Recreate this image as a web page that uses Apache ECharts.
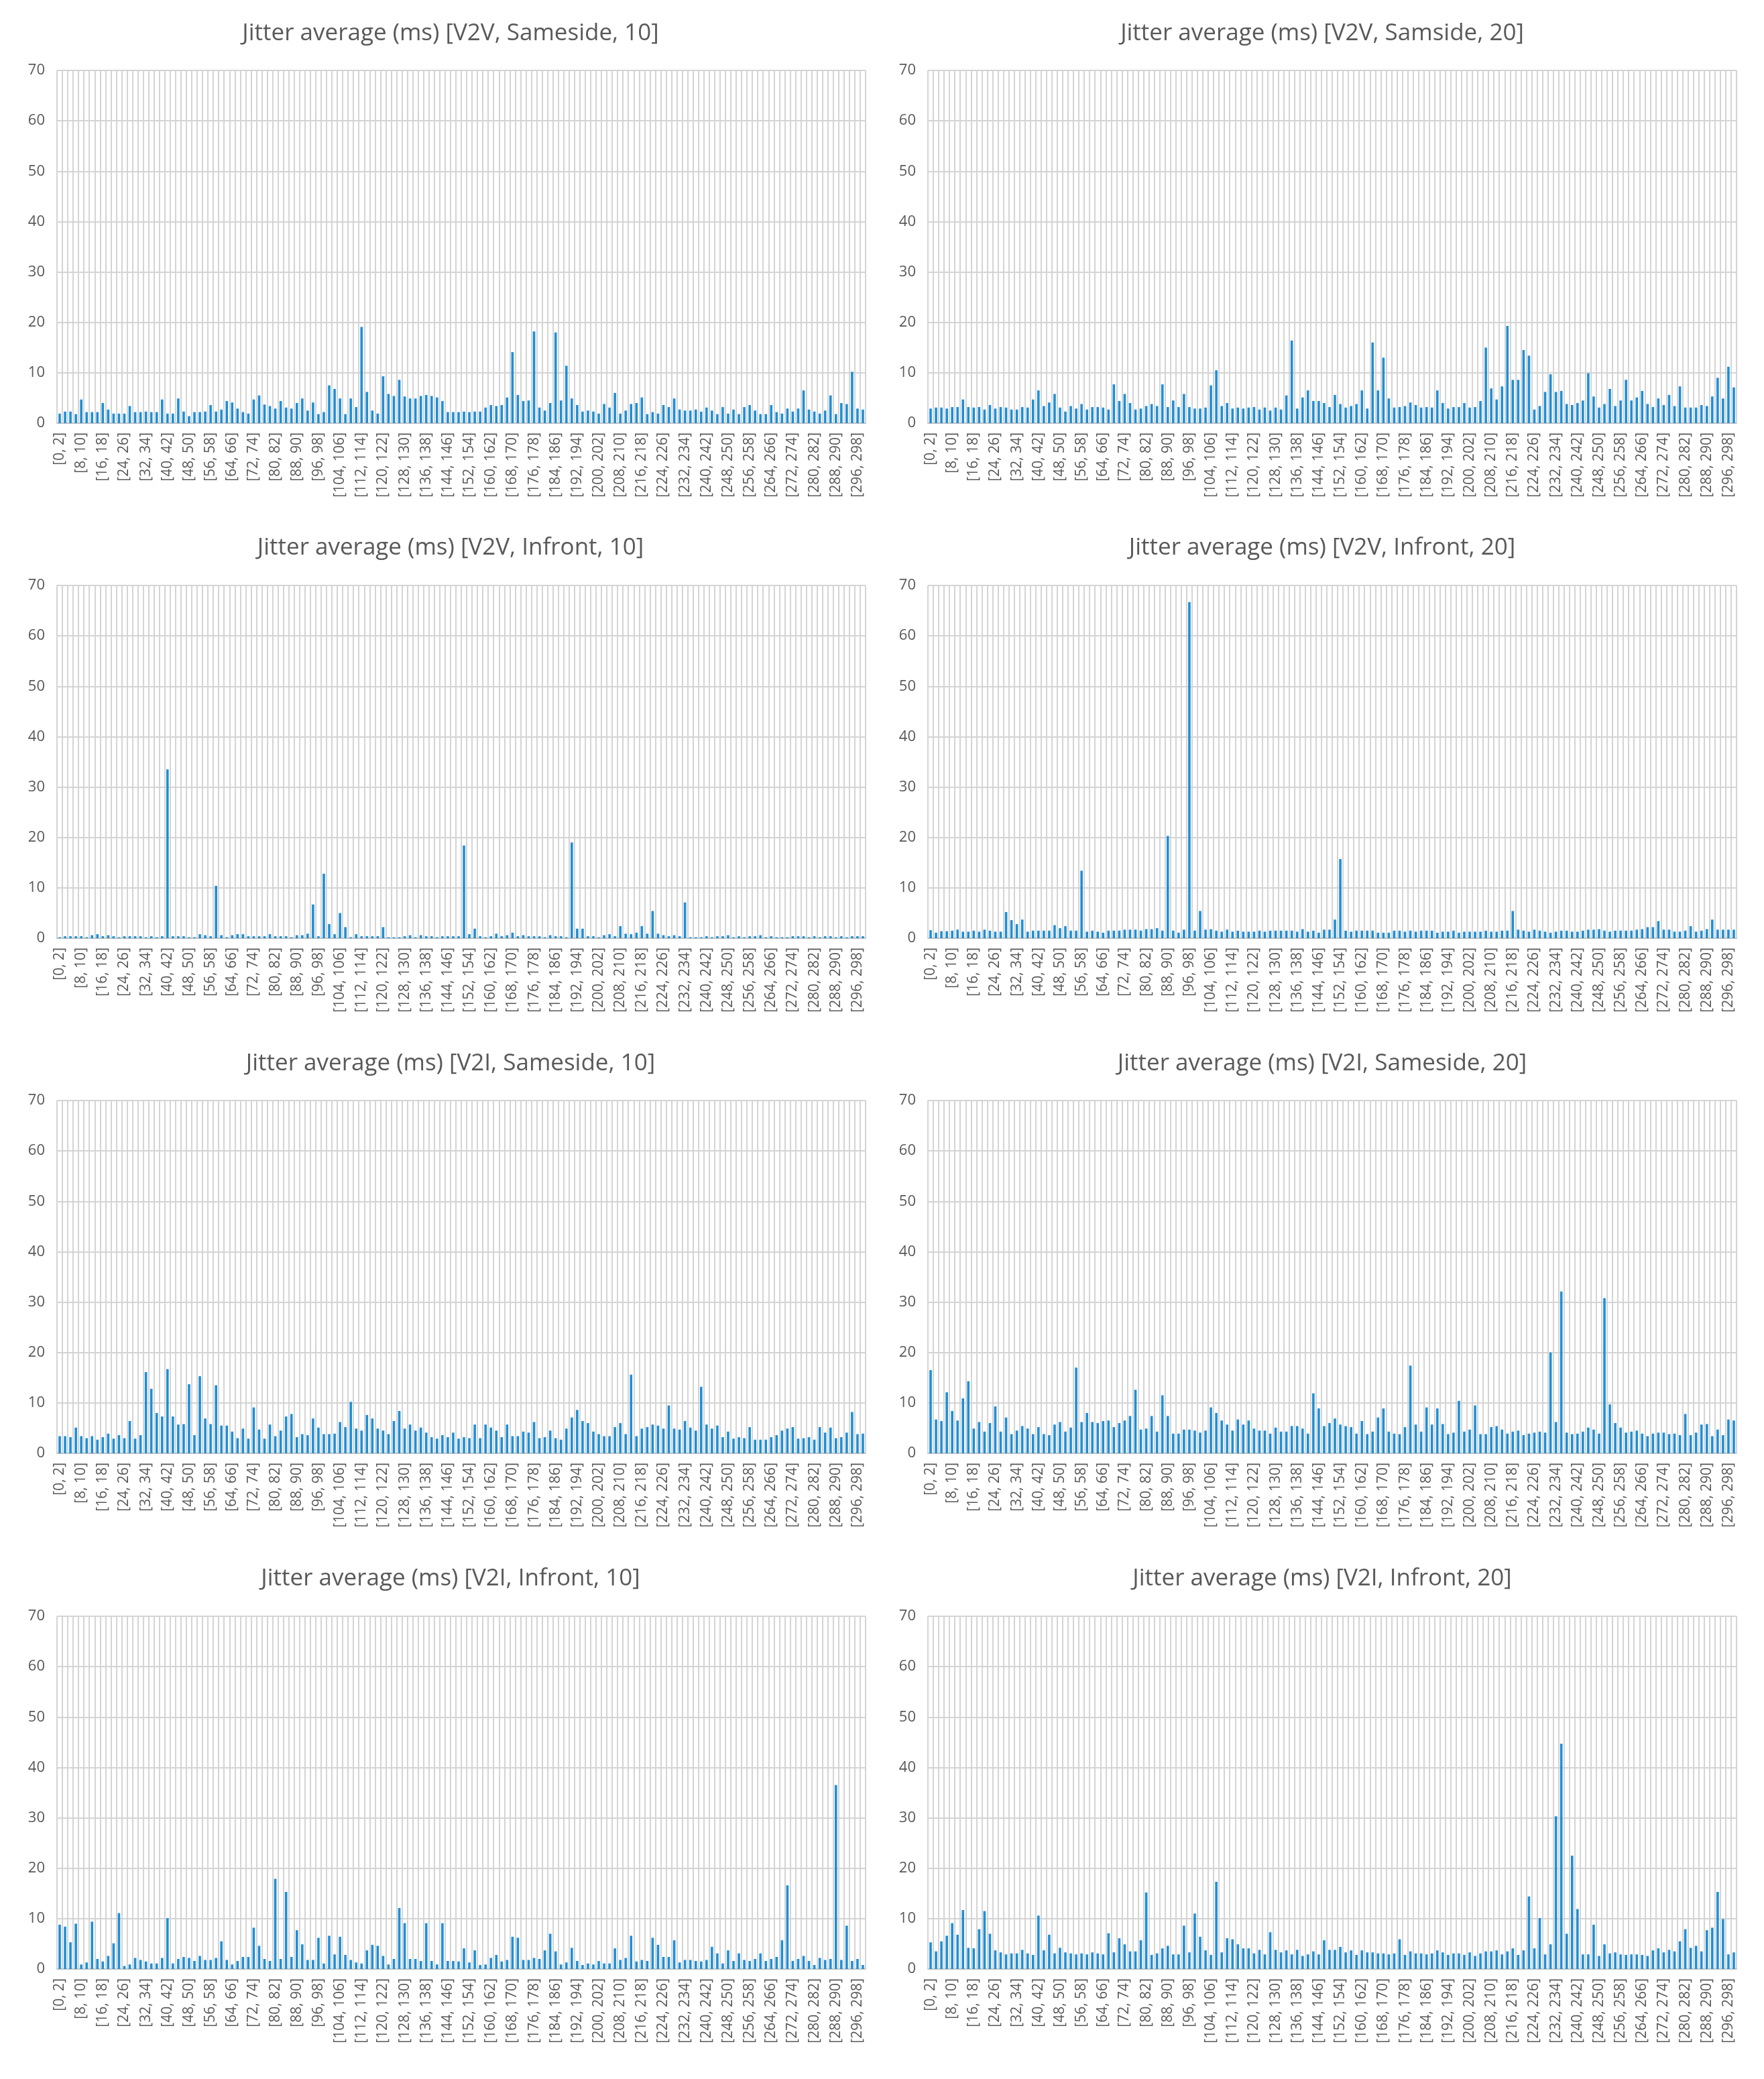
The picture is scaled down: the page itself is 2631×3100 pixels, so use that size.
<!DOCTYPE html>
<html>
<head>
<meta charset="utf-8">
<title>Jitter average</title>
<script src="https://cdn.jsdelivr.net/npm/echarts@6/dist/echarts.min.js"></script>
<style>
  html, body { margin: 0; padding: 0; background: #fff; }
  #chart { width: 2631px; height: 3100px; }
</style>
</head>
<body>
<div id="chart"></div>
<script>
// bins [0, 2] ... [298, 300]
const categories = [];
for (let i = 0; i < 150; i++) categories.push('[' + (2 * i) + ', ' + (2 * i + 2) + ']');

const yTicks = [0, 10, 20, 30, 40, 50, 60, 70];

const titles = [
  'Jitter average (ms) [V2V, Sameside, 10]',
  'Jitter average (ms) [V2V, Samside, 20]',
  'Jitter average (ms) [V2V, Infront, 10]',
  'Jitter average (ms) [V2V, Infront, 20]',
  'Jitter average (ms) [V2I, Sameside, 10]',
  'Jitter average (ms) [V2I, Sameside, 20]',
  'Jitter average (ms) [V2I, Infront, 10]',
  'Jitter average (ms) [V2I, Infront, 20]'
];

const v2vSameside10 = [
  1.9, 2.3, 2.3, 1.8, 4.7, 2.2, 2.2, 2.2, 4.0, 2.7,
  1.9, 1.9, 1.9, 3.4, 2.2, 2.2, 2.3, 2.2, 2.2, 4.7,
  1.9, 1.9, 4.9, 2.3, 1.4, 2.2, 2.2, 2.3, 3.6, 2.3,
  2.7, 4.4, 4.1, 2.9, 2.2, 1.9, 4.7, 5.5, 3.7, 3.4,
  2.9, 4.4, 3.1, 2.9, 4.0, 4.9, 2.5, 4.1, 1.8, 2.2,
  7.5, 6.8, 4.9, 1.8, 4.9, 3.2, 19.1, 6.2, 2.5, 1.9,
  9.3, 5.8, 5.4, 8.6, 5.3, 4.9, 4.9, 5.4, 5.6, 5.4,
  5.1, 4.4, 2.2, 2.2, 2.2, 2.3, 2.2, 2.3, 2.3, 3.1,
  3.6, 3.4, 3.6, 5.1, 14.1, 5.6, 4.4, 4.5, 18.2, 3.1,
  2.5, 4.0, 18.0, 4.5, 11.4, 4.9, 3.6, 2.3, 2.5, 2.3,
  1.9, 3.8, 3.1, 6.0, 1.9, 2.5, 3.8, 4.0, 5.1, 1.8,
  2.2, 1.9, 3.6, 3.2, 4.9, 2.7, 2.5, 2.5, 2.7, 2.3,
  3.1, 2.5, 1.8, 3.2, 1.9, 2.7, 1.8, 3.2, 3.6, 2.5,
  1.8, 1.8, 3.6, 2.2, 1.9, 2.9, 2.3, 2.9, 6.5, 2.7,
  2.3, 1.9, 2.5, 5.5, 1.8, 4.0, 3.8, 10.2, 2.9, 2.7
];

const v2vSamside20 = [
  2.9, 3.1, 3.1, 2.9, 3.2, 3.2, 4.7, 3.2, 3.1, 3.2,
  2.7, 3.6, 2.9, 3.2, 3.1, 2.7, 2.7, 3.2, 3.1, 4.7,
  6.5, 3.4, 4.1, 5.8, 3.1, 2.3, 3.4, 2.9, 3.8, 2.7,
  3.2, 3.2, 3.1, 2.7, 7.7, 4.4, 5.8, 4.0, 2.7, 2.9,
  3.4, 3.8, 3.4, 7.7, 3.2, 4.5, 3.2, 5.8, 3.2, 2.9,
  2.9, 3.1, 7.5, 10.5, 3.4, 4.0, 2.9, 3.1, 2.9, 3.1,
  3.2, 2.7, 3.1, 2.5, 3.1, 2.7, 5.5, 16.4, 2.9, 5.1,
  6.5, 4.4, 4.4, 4.0, 3.2, 5.6, 3.8, 3.1, 3.4, 3.8,
  6.5, 2.9, 16.0, 6.5, 13.0, 4.9, 3.1, 3.2, 3.4, 4.1,
  3.6, 3.1, 3.2, 3.1, 6.5, 4.0, 2.9, 3.2, 3.2, 4.0,
  3.1, 3.2, 4.4, 15.0, 6.9, 4.7, 7.3, 19.3, 8.6, 8.6,
  14.5, 13.4, 2.7, 3.4, 6.2, 9.7, 6.2, 6.4, 3.8, 3.6,
  4.0, 4.5, 9.9, 5.3, 3.1, 3.8, 6.8, 3.4, 4.5, 8.6,
  4.5, 5.1, 6.4, 3.8, 3.2, 4.9, 3.6, 5.6, 3.4, 7.3,
  3.1, 3.1, 3.1, 3.6, 3.4, 5.3, 9.0, 4.9, 11.2, 7.1
];

const v2vInfront10 = [
  0.2, 0.4, 0.4, 0.4, 0.4, 0.2, 0.6, 0.8, 0.4, 0.6,
  0.4, 0.2, 0.4, 0.4, 0.4, 0.4, 0.2, 0.4, 0.2, 0.4,
  33.5, 0.4, 0.4, 0.4, 0.2, 0.2, 0.8, 0.6, 0.4, 10.4,
  0.6, 0.2, 0.6, 0.8, 0.8, 0.4, 0.4, 0.4, 0.4, 0.8,
  0.4, 0.4, 0.4, 0.2, 0.6, 0.6, 0.9, 6.7, 0.4, 12.8,
  2.8, 0.8, 5.0, 2.2, 0.2, 0.8, 0.4, 0.4, 0.4, 0.4,
  2.2, 0.2, 0.2, 0.2, 0.4, 0.6, 0.2, 0.6, 0.4, 0.4,
  0.2, 0.4, 0.4, 0.4, 0.4, 18.4, 0.8, 1.9, 0.4, 0.2,
  0.4, 0.9, 0.4, 0.6, 1.1, 0.4, 0.6, 0.4, 0.4, 0.4,
  0.2, 0.6, 0.4, 0.4, 0.2, 19.0, 1.9, 1.9, 0.4, 0.4,
  0.2, 0.6, 0.8, 0.4, 2.4, 0.9, 0.8, 1.1, 2.4, 0.9,
  5.4, 0.9, 0.6, 0.4, 0.6, 0.4, 7.1, 0.2, 0.2, 0.2,
  0.4, 0.2, 0.4, 0.4, 0.6, 0.2, 0.4, 0.2, 0.4, 0.4,
  0.6, 0.2, 0.4, 0.2, 0.2, 0.2, 0.4, 0.4, 0.4, 0.2,
  0.4, 0.2, 0.4, 0.4, 0.2, 0.4, 0.2, 0.4, 0.4, 0.4
];

const v2vInfront20 = [
  1.6, 1.1, 1.4, 1.4, 1.5, 1.7, 1.3, 1.3, 1.5, 1.3,
  1.7, 1.5, 1.3, 1.3, 5.2, 3.6, 2.8, 3.7, 1.3, 1.5,
  1.5, 1.5, 1.5, 2.6, 2.0, 2.4, 1.5, 1.5, 13.4, 1.3,
  1.5, 1.3, 1.1, 1.5, 1.5, 1.5, 1.7, 1.7, 1.7, 1.5,
  1.8, 1.8, 2.0, 1.5, 20.3, 1.5, 1.1, 1.7, 66.7, 1.5,
  5.4, 1.7, 1.8, 1.5, 1.3, 1.7, 1.3, 1.5, 1.3, 1.3,
  1.3, 1.5, 1.3, 1.5, 1.5, 1.5, 1.5, 1.5, 1.3, 1.8,
  1.3, 1.5, 1.1, 1.7, 1.7, 3.7, 15.7, 1.5, 1.3, 1.5,
  1.5, 1.5, 1.5, 1.1, 1.1, 1.1, 1.5, 1.5, 1.3, 1.5,
  1.3, 1.5, 1.5, 1.5, 1.1, 1.3, 1.3, 1.5, 1.1, 1.3,
  1.3, 1.3, 1.3, 1.5, 1.3, 1.3, 1.5, 1.5, 5.4, 1.7,
  1.5, 1.3, 1.7, 1.5, 1.3, 1.1, 1.3, 1.5, 1.5, 1.3,
  1.3, 1.5, 1.7, 1.7, 1.8, 1.5, 1.3, 1.5, 1.5, 1.5,
  1.5, 1.7, 1.8, 2.2, 2.2, 3.4, 1.7, 1.7, 1.3, 1.3,
  1.5, 2.4, 1.3, 1.5, 1.8, 3.7, 1.7, 1.7, 1.7, 1.7
];

const v2iSameside10 = [
  3.4, 3.4, 3.2, 5.1, 3.4, 3.0, 3.4, 2.7, 3.2, 3.9,
  2.9, 3.6, 3.0, 6.4, 2.9, 3.6, 16.1, 12.8, 8.0, 7.3,
  16.7, 7.3, 5.7, 5.8, 13.7, 3.6, 15.3, 6.9, 5.8, 13.5,
  5.5, 5.5, 4.3, 3.0, 4.9, 2.9, 9.1, 4.7, 2.9, 5.7,
  3.4, 4.5, 7.3, 7.8, 3.2, 3.8, 3.6, 6.9, 5.1, 3.8,
  3.8, 3.9, 6.2, 5.2, 10.2, 4.9, 4.5, 7.6, 6.9, 4.9,
  4.5, 3.8, 6.4, 8.4, 4.9, 5.7, 4.5, 5.1, 4.1, 3.2,
  2.9, 3.6, 3.2, 4.1, 2.9, 3.2, 3.0, 5.7, 3.0, 5.7,
  5.1, 4.5, 3.2, 5.7, 3.4, 3.4, 4.3, 4.1, 6.2, 3.0,
  3.2, 4.5, 3.0, 2.7, 4.9, 7.1, 8.6, 6.4, 6.0, 4.3,
  3.8, 3.4, 3.4, 5.2, 6.0, 3.8, 15.6, 3.4, 4.9, 5.2,
  5.7, 5.5, 4.9, 9.5, 4.9, 4.7, 6.4, 5.1, 4.5, 13.2,
  5.7, 4.9, 5.5, 3.2, 4.3, 2.9, 3.2, 3.0, 5.2, 2.7,
  2.7, 2.7, 3.2, 3.6, 4.5, 4.9, 5.2, 2.9, 3.0, 3.2,
  2.7, 5.2, 4.1, 5.1, 3.0, 3.2, 4.1, 8.2, 3.8, 3.9
];

const v2iSameside20 = [
  16.5, 6.7, 6.4, 12.1, 8.4, 6.5, 10.9, 14.3, 4.9, 6.2,
  4.3, 6.0, 9.3, 4.3, 7.1, 3.8, 4.5, 5.4, 4.9, 3.8,
  5.2, 3.8, 3.6, 5.7, 6.2, 4.3, 5.1, 17.0, 6.2, 8.0,
  6.2, 6.0, 6.4, 6.5, 5.2, 6.0, 6.5, 7.4, 12.6, 4.7,
  4.9, 7.4, 4.3, 11.5, 7.4, 3.9, 3.9, 4.7, 4.7, 4.5,
  4.1, 4.5, 9.1, 8.0, 6.5, 5.7, 4.5, 6.7, 5.7, 6.5,
  4.9, 4.5, 4.5, 3.9, 5.1, 4.3, 4.3, 5.4, 5.4, 4.9,
  3.9, 11.9, 8.9, 5.4, 6.0, 6.9, 5.7, 5.4, 5.2, 3.9,
  6.4, 3.8, 4.3, 7.1, 8.9, 4.3, 3.9, 3.8, 5.2, 17.4,
  5.7, 4.3, 9.1, 5.7, 8.9, 5.8, 3.8, 4.1, 10.4, 4.3,
  4.7, 9.5, 3.8, 3.8, 5.2, 5.4, 4.7, 3.9, 4.3, 4.5,
  3.6, 3.9, 4.1, 4.3, 4.1, 20.0, 6.2, 32.1, 4.1, 3.8,
  3.9, 4.3, 5.1, 4.7, 3.9, 30.8, 9.7, 6.0, 5.1, 4.1,
  4.3, 4.5, 3.9, 3.4, 3.9, 4.1, 4.1, 3.8, 3.9, 3.6,
  7.8, 3.6, 4.1, 5.7, 5.8, 3.4, 4.7, 3.6, 6.7, 6.5
];

const v2iInfront10 = [
  8.8, 8.4, 5.3, 9.0, 0.9, 1.3, 9.4, 2.0, 1.5, 2.6,
  5.1, 11.1, 0.6, 0.9, 2.2, 1.8, 1.5, 1.1, 1.1, 2.2,
  10.1, 1.1, 2.0, 2.4, 2.2, 1.6, 2.6, 1.8, 1.8, 2.2,
  5.5, 1.8, 0.9, 1.6, 2.4, 2.4, 8.2, 4.6, 2.0, 1.6,
  17.9, 2.0, 15.3, 2.4, 7.7, 4.9, 1.8, 1.8, 6.2, 1.1,
  6.6, 2.9, 6.4, 2.8, 1.8, 1.3, 1.1, 3.7, 4.8, 4.6,
  2.6, 0.9, 2.0, 12.1, 9.1, 2.0, 2.0, 1.6, 9.1, 1.6,
  0.9, 9.1, 1.6, 1.6, 1.5, 4.1, 1.3, 3.7, 0.8, 0.9,
  2.2, 2.8, 1.5, 1.8, 6.4, 6.2, 1.8, 1.8, 2.2, 2.0,
  3.7, 7.0, 3.5, 0.9, 1.3, 4.2, 1.6, 0.8, 1.1, 0.9,
  1.6, 1.1, 1.1, 4.1, 1.8, 2.2, 6.6, 1.5, 1.8, 1.6,
  6.2, 4.8, 2.4, 2.4, 5.7, 1.3, 1.8, 1.8, 1.6, 1.5,
  1.8, 4.4, 3.1, 1.1, 3.7, 1.6, 3.1, 1.8, 1.6, 2.0,
  3.1, 1.6, 2.0, 2.4, 5.7, 16.6, 1.6, 2.0, 2.6, 1.6,
  0.8, 2.2, 1.8, 2.0, 36.5, 1.8, 8.6, 1.6, 2.0, 0.8
];

const v2iInfront20 = [
  5.3, 3.5, 5.5, 6.6, 9.1, 6.8, 11.7, 4.2, 4.1, 7.9,
  11.5, 7.0, 3.7, 3.3, 2.9, 3.1, 3.1, 3.8, 3.1, 2.8,
  10.6, 3.7, 6.8, 3.1, 4.2, 3.3, 3.1, 2.9, 3.1, 2.9,
  3.3, 3.1, 2.9, 7.1, 3.3, 6.1, 4.9, 3.5, 3.5, 5.7,
  15.2, 2.8, 3.1, 4.1, 4.6, 2.9, 2.9, 8.6, 3.3, 11.0,
  6.4, 3.7, 2.8, 17.3, 3.3, 6.1, 5.9, 4.9, 4.1, 4.1,
  3.1, 3.8, 2.9, 7.3, 3.8, 3.3, 3.7, 2.9, 3.8, 2.6,
  2.9, 3.5, 2.9, 5.7, 3.8, 3.8, 4.4, 3.3, 3.7, 2.8,
  3.7, 3.3, 3.3, 3.1, 3.1, 2.9, 3.1, 5.9, 2.8, 3.5,
  3.1, 3.1, 2.9, 3.1, 3.7, 3.3, 2.8, 3.1, 3.1, 2.8,
  3.3, 2.6, 3.1, 3.5, 3.5, 3.7, 2.9, 3.5, 4.1, 2.8,
  3.7, 14.4, 4.1, 10.1, 2.9, 4.9, 30.3, 44.7, 7.0, 22.5,
  11.9, 2.9, 2.9, 8.8, 2.6, 4.9, 3.1, 3.3, 2.9, 2.8,
  2.9, 2.9, 2.8, 2.6, 3.7, 4.1, 3.3, 3.8, 3.5, 5.5,
  7.9, 4.2, 4.6, 3.5, 7.7, 8.2, 15.3, 9.9, 2.9, 3.3
];

const panelData = [
  v2vSameside10, v2vSamside20,
  v2vInfront10, v2vInfront20,
  v2iSameside10, v2iSameside20,
  v2iInfront10, v2iInfront20
];

// layout of the 2 x 4 panels (px)
const colLeft = [85, 1384];
const plotWidth = 1206;
const rowTop = [105, 873, 1641, 2410];
const plotHeight = 526;
const titleCenter = [667, 1967];
const titleTop = [28, 795, 1564, 2332];

const font = "'Open Sans', 'DejaVu Sans', sans-serif";
const textGray = '#595959';
const gridGray = '#d4d4d4';
const barBlue = '#1f8fd4';

const grids = [], xAxes = [], yAxes = [], series = [], titleList = [];

panelData.forEach(function (data, k) {
  const col = k % 2;
  const row = Math.floor(k / 2);
  grids.push({
    left: colLeft[col],
    top: rowTop[row],
    width: plotWidth,
    height: plotHeight,
    containLabel: false
  });
  titleList.push({
    text: titles[k],
    left: titleCenter[col],
    top: titleTop[row],
    textAlign: 'center',
    textStyle: { fontFamily: font, fontSize: 35, fontWeight: 'normal', color: textGray }
  });
  xAxes.push({
    type: 'category',
    gridIndex: k,
    data: categories,
    boundaryGap: true,
    axisLine: { show: true, lineStyle: { color: '#c4c4c4', width: 2 } },
    axisTick: { show: false, interval: 0 },
    axisLabel: {
      interval: 3,
      rotate: 90,
      margin: 14,
      fontFamily: font,
      fontSize: 21,
      color: textGray
    },
    splitLine: { show: true, interval: 0, lineStyle: { color: gridGray, width: 2 } }
  });
  yAxes.push({
    type: 'value',
    gridIndex: k,
    min: yTicks[0],
    max: yTicks[yTicks.length - 1],
    interval: 10,
    axisLine: { show: false },
    axisTick: { show: false },
    axisLabel: { margin: 18, fontFamily: font, fontSize: 22, color: textGray },
    splitLine: { show: true, lineStyle: { color: gridGray, width: 2 } }
  });
  series.push({
    type: 'bar',
    xAxisIndex: k,
    yAxisIndex: k,
    data: data,
    barWidth: '45%',
    itemStyle: { color: barBlue },
    animation: false
  });
});

const chart = echarts.init(document.getElementById('chart'), null, { renderer: 'canvas' });
chart.setOption({
  backgroundColor: '#ffffff',
  animation: false,
  title: titleList,
  grid: grids,
  xAxis: xAxes,
  yAxis: yAxes,
  series: series
});
</script>
</body>
</html>
